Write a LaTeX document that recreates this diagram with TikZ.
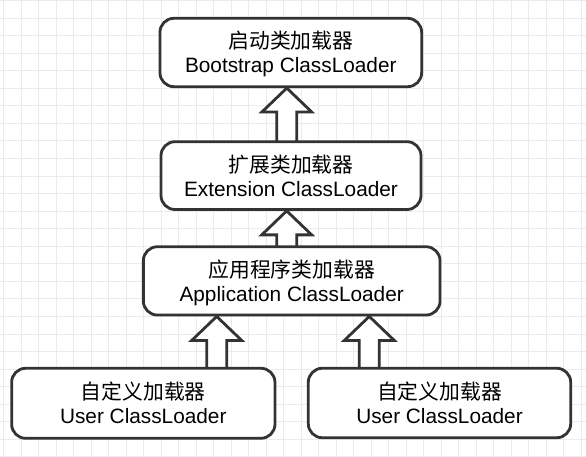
\documentclass[tikz,border=0pt]{standalone}
\usepackage{fontspec}
\setmainfont{Liberation Sans}
\newfontfamily\cjk{Noto Sans CJK SC}
\usetikzlibrary{calc}
\definecolor{gridc}{HTML}{EAEAF2}
\definecolor{edgec}{HTML}{333333}
\newcommand\topstrut{\rule{0pt}{22pt}}
\newcommand\botstrut{\rule[-5pt]{0pt}{5pt}}
\pgfdeclarelayer{bg}
\pgfdeclarelayer{mid}
\pgfsetlayers{bg,mid,main}
\tikzset{
  loader/.style={draw=edgec, line width=2.8pt, fill=white, rounded corners=14pt,
    align=center, inner sep=0pt, font=\fontsize{20.8}{24}\selectfont},
  barrow/.style={draw=edgec, line width=2.8pt, fill=white, line join=miter},
  gridline/.style={draw=gridc, line width=0.8pt}
}
% #1 x offset of tip, #2 upper node (tip), #3 lower node (tail)
\newcommand\upblock[3]{%
  \draw[barrow] let \p1=($(#2.south)+(#1,0)$), \p2=(#3.north) in
    (\x1,\y1) -- (\x1+25pt,\y1-24pt) -- (\x1+10pt,\y1-24pt) -- (\x1+10pt,\y2-4pt)
    -- (\x1-10pt,\y2-4pt) -- (\x1-10pt,\y1-24pt) -- (\x1-25pt,\y1-24pt) -- cycle;}
\begin{document}
\begin{tikzpicture}[x=1pt,y=1pt]
\useasboundingbox (0,0) rectangle (586,457);
\begin{pgfonlayer}{bg}
  \fill[white] (0,0) rectangle (586,457);
  \foreach \i in {0,...,33} \draw[gridline] (3.5+17.5*\i,0) -- ++(0,457);
  \foreach \k in {0,...,26} \draw[gridline] (0,456.5-17.55*\k) -- ++(586,0);
\end{pgfonlayer}

\node[loader, minimum width=261.7pt, minimum height=68.4pt] (boot) at (290.8,404.5)
  {\topstrut{\cjk 启动类加载器}\\Bootstrap ClassLoader\botstrut};
\node[loader, minimum width=260pt, minimum height=67.8pt] (ext) at (291,281.4)
  {\topstrut{\cjk 扩展类加载器}\\Extension ClassLoader\botstrut};
\node[loader, minimum width=296.7pt, minimum height=68.3pt] (app) at (291.7,176.1)
  {\topstrut{\cjk 应用程序类加载器}\\Application ClassLoader\botstrut};
\node[loader, minimum width=263.3pt, minimum height=70pt] (user1) at (143.3,53.7)
  {\topstrut{\cjk 自定义加载器}\\User ClassLoader\botstrut};
\node[loader, minimum width=262.4pt, minimum height=69.5pt] (user2) at (439.5,54)
  {\topstrut{\cjk 自定义加载器}\\User ClassLoader\botstrut};

\begin{pgfonlayer}{mid}
  \upblock{-4}{boot}{ext}
  \upblock{-4.3}{ext}{app}
  \upblock{-75}{app}{user1}
  \upblock{77.6}{app}{user2}
\end{pgfonlayer}
\end{tikzpicture}
\end{document}
